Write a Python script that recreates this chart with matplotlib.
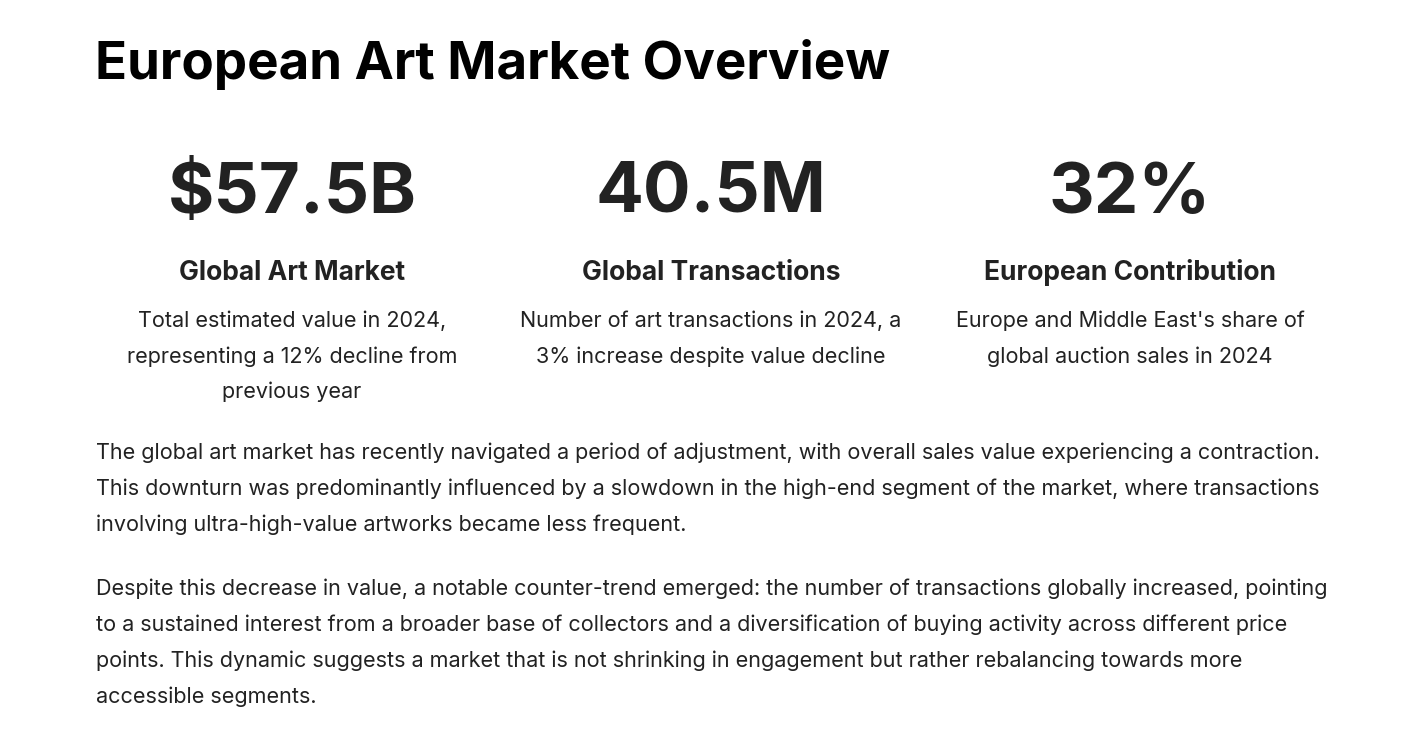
import matplotlib.pyplot as plt

plt.rcParams["font.family"] = "Inter"

W, H = 1408, 742

title = "European Art Market Overview"
stat_values = ["$57.5B", "40.5M", "32%"]
stat_labels = ["Global Art Market", "Global Transactions", "European Contribution"]
stat_notes = [
    ["Total estimated value in 2024,", "representing a 12% decline from", "previous year"],
    ["Number of art transactions in 2024, a", "3% increase despite value decline"],
    ["Europe and Middle East's share of", "global auction sales in 2024"],
]
paragraphs = [
    ["The global art market has recently navigated a period of adjustment, with overall sales value experiencing a contraction.",
     "This downturn was predominantly influenced by a slowdown in the high-end segment of the market, where transactions",
     "involving ultra-high-value artworks became less frequent."],
    ["Despite this decrease in value, a notable counter-trend emerged: the number of transactions globally increased, pointing",
     "to a sustained interest from a broader base of collectors and a diversification of buying activity across different price",
     "points. This dynamic suggests a market that is not shrinking in engagement but rather rebalancing towards more",
     "accessible segments."],
]

fig = plt.figure(figsize=(W / 100, H / 100), dpi=100)
fig.patch.set_facecolor("white")

def put(x, y, s, **kw):
    fig.text(x / W, 1 - y / H, s, va="center", **kw)

put(95, 64, title, fontsize=38, fontweight="bold", color="#000000")

centers = [292, 711, 1130]
for cx, val, lab, note in zip(centers, stat_values, stat_labels, stat_notes):
    put(cx, 194, val, fontsize=51, fontweight="bold", color="#222222", ha="center")
    put(cx, 273, lab, fontsize=19, fontweight="bold", color="#222222", ha="center")
    for i, line in enumerate(note):
        put(cx, 321 + i * 35.5, line, fontsize=15.5, color="#222222", ha="center")

y = 453
for para in paragraphs:
    for line in para:
        put(96, y, line, fontsize=15.5, color="#222222")
        y += 36
    y += 28

fig.savefig("out.png", dpi=100, facecolor="white")
